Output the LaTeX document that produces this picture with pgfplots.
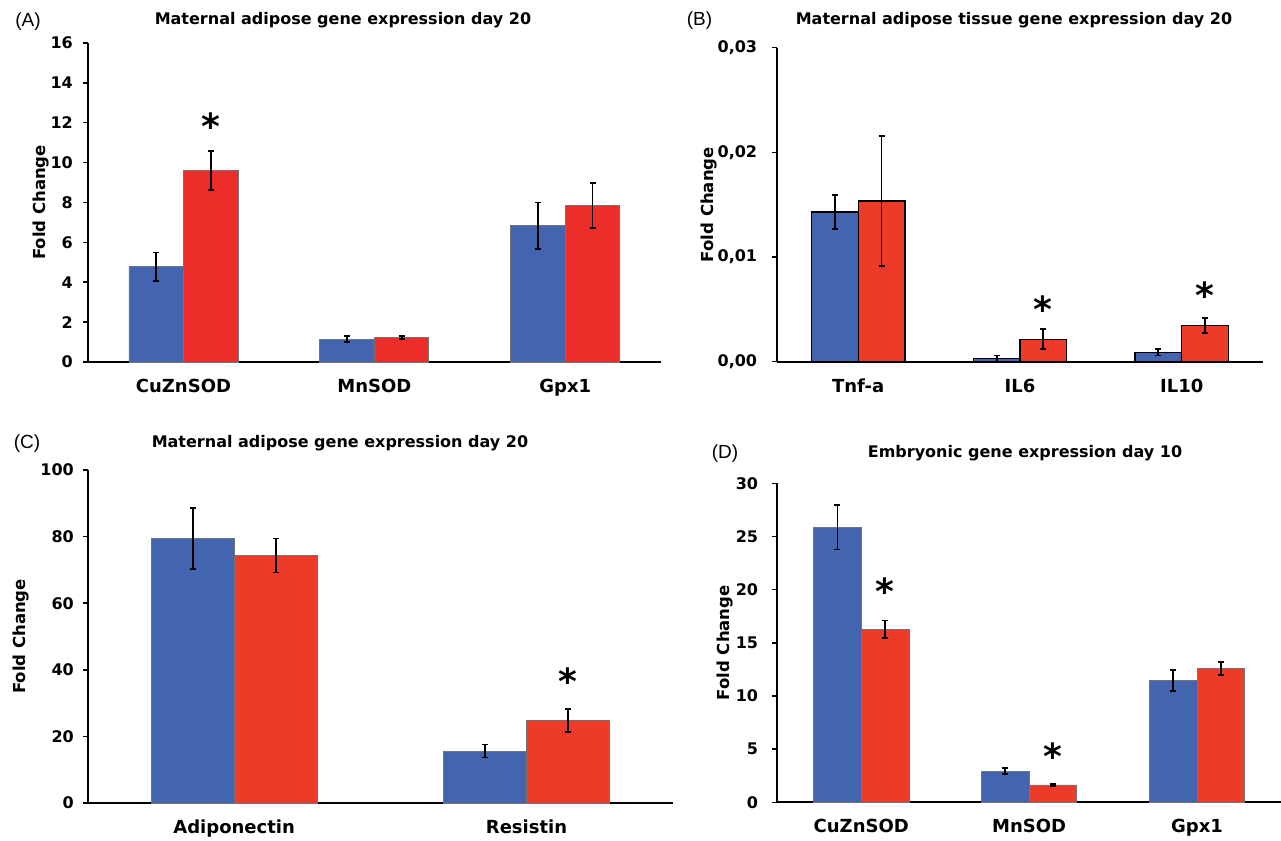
\documentclass[border=0pt]{standalone}
\usepackage{fontspec}
\setmainfont{DejaVu Sans}
\newfontfamily\helv{Liberation Sans}
\usepackage{pgfplots}
\pgfplotsset{compat=1.18}
\definecolor{cblue}{RGB}{67,101,175}
\definecolor{cred}{RGB}{237,45,41}
\definecolor{credb}{RGB}{238,58,40}
\pgfplotsset{
  myaxis/.style={
    scale only axis, axis x line*=bottom, axis y line*=left,
    axis line style={line width=2pt, black},
    ybar=0pt, ymin=0, clip=false, scaled y ticks=false,
    xtick={0,1,2}, xtick style={draw=none},
    ytick style={line width=1.5pt, black},
    tick align=outside, major tick length=5pt,
    yticklabel style={font=\fontsize{16}{19}\selectfont\bfseries, anchor=east, inner sep=0pt},
    xticklabel style={font=\fontsize{18}{21}\selectfont\bfseries, anchor=north, inner sep=0pt, yshift=-12pt},
    ylabel style={font=\fontsize{16.5}{19}\selectfont\bfseries, anchor=center},
  },
  eb/.style={error bars/y dir=both, error bars/y explicit,
    error bars/error bar style={line width=1.8pt, black},
    error bars/error mark options={rotate=90, line width=1.8pt, black, mark size=3pt}},
  bblue/.style={fill=cblue, draw=black!55, line width=0.8pt, eb},
  bred/.style={fill=cred, draw=black!55, line width=0.8pt, eb},
}
\newcommand{\sigstar}[1]{\node[font=\fontsize{36}{40}\selectfont\bfseries, inner sep=0pt, anchor=center, yshift=-7pt] at (#1) {*};}
\begin{document}
\begin{tikzpicture}
\path[use as bounding box] (0,0) rectangle (1281pt,840pt);

% (A)
\begin{axis}[myaxis, at={(88pt,478pt)}, anchor=south west,
  width=572.7pt, height=319pt, xmin=-0.5, xmax=2.5, ymax=16,
  bar width=54.5pt,
  ytick={0,2,4,6,8,10,12,14,16},
  yticklabels={0,2,4,6,8,10,12,14,16},
  yticklabel style={xshift=-10pt},
  xticklabels={CuZnSOD,MnSOD,Gpx1},
  ylabel={Fold Change}, ylabel style={at={([xshift=-46.5pt]axis description cs:0,0.5)}}]
\addplot[bblue] coordinates {(0,4.78) +- (0,0.71) (1,1.15) +- (0,0.15) (2,6.84) +- (0,1.16)};
\addplot[bred] coordinates {(0,9.6) +- (0,0.97) (1,1.23) +- (0,0.08) (2,7.85) +- (0,1.12)};
\sigstar{[xshift=27.25pt]axis cs:0,12.17}
\end{axis}

% (B)
\begin{axis}[myaxis, at={(777.3pt,478.3pt)}, anchor=south west,
  width=485.3pt, height=314pt, xmin=-0.5, xmax=2.5, ymax=0.03,
  bar width=46.7pt,
  ytick={0,0.01,0.02,0.03},
  yticklabels={{0,00},{0,01},{0,02},{0,03}},
  yticklabel style={xshift=-15pt},
  xticklabels={Tnf-a,IL6,IL10},
  ylabel={Fold Change}, ylabel style={at={([xshift=-68.3pt]axis description cs:0,0.5)}},
  bblue/.append style={draw=black, line width=1.3pt},
  bred/.append style={fill=credb, draw=black, line width=1.3pt}]
\addplot[bblue] coordinates {(0,0.0143) +- (0,0.0016) (1,0.0003) +- (0,0.0003) (2,0.0009) +- (0,0.0003)};
\addplot[bred] coordinates {(0,0.01535) +- (0,0.0062) (1,0.00214) +- (0,0.00095) (2,0.00344) +- (0,0.0007)};
\sigstar{[xshift=23.35pt]axis cs:1,0.00573}
\sigstar{[xshift=23.35pt]axis cs:2,0.00701}
\end{axis}

% (C)
\begin{axis}[myaxis, at={(88pt,37pt)}, anchor=south west,
  width=584.7pt, height=333pt, xmin=-0.5, xmax=1.5, ymax=100,
  bar width=83pt, xtick={0,1},
  ytick={0,20,40,60,80,100},
  yticklabels={0,20,40,60,80,100},
  yticklabel style={xshift=-9pt},
  xticklabels={Adiponectin,Resistin},
  ylabel={Fold Change}, ylabel style={at={([xshift=-67pt]axis description cs:0,0.5)}},
  bred/.append style={fill=credb}]
\addplot[bblue] coordinates {(0,79.5) +- (0,9.2) (1,15.6) +- (0,1.95)};
\addplot[bred] coordinates {(0,74.3) +- (0,5.1) (1,24.8) +- (0,3.4)};
\sigstar{[xshift=41.5pt]axis cs:1,38.7}
\end{axis}

% (D)
\begin{axis}[myaxis, at={(777.3pt,37.7pt)}, anchor=south west,
  width=503.7pt, height=319pt, xmin=-0.5, xmax=2.5, ymax=30,
  bar width=47.7pt,
  ytick={0,5,10,15,20,25,30},
  yticklabels={0,5,10,15,20,25,30},
  yticklabel style={xshift=-14pt},
  xticklabels={CuZnSOD,MnSOD,Gpx1},
  ylabel={Fold Change}, ylabel style={at={([xshift=-52.3pt]axis description cs:0,0.5)}},
  bred/.append style={fill=credb}]
\addplot[bblue] coordinates {(0,25.87) +- (0,2.1) (1,2.94) +- (0,0.27) (2,11.45) +- (0,1.02)};
\addplot[bred] coordinates {(0,16.27) +- (0,0.83) (1,1.63) +- (0,0.08) (2,12.57) +- (0,0.63)};
\sigstar{[xshift=23.85pt]axis cs:0,20.5}
\sigstar{[xshift=23.85pt]axis cs:1,5.0}
\end{axis}

% titles and panel labels
\begin{scope}[every node/.style={font=\fontsize{16}{19}\selectfont\bfseries, inner sep=0pt}]
\node at (343pt,820pt) {Maternal adipose gene expression day 20};
\node at (1014pt,820pt) {Maternal adipose tissue gene expression day 20};
\node at (340pt,396.7pt) {Maternal adipose gene expression day 20};
\node at (1025pt,386.7pt) {Embryonic gene expression day 10};
\end{scope}
\begin{scope}[every node/.style={font=\helv\fontsize{19}{22}\selectfont, inner sep=0pt}]
\node at (28pt,818pt) {(A)};
\node at (699.5pt,819pt) {(B)};
\node at (27pt,396pt) {(C)};
\node at (725pt,386pt) {(D)};
\end{scope}
\end{tikzpicture}
\end{document}
